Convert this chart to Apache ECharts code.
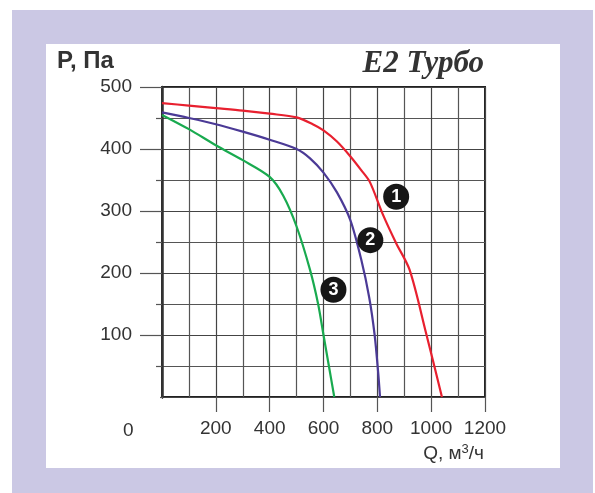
<!DOCTYPE html>
<html><head><meta charset="utf-8">
<script src="https://cdn.jsdelivr.net/npm/echarts@6/dist/echarts.min.js"></script>
<style>html,body{margin:0;padding:0;background:#fff}#c{width:595px;height:493px}</style>
</head><body><div id="c"></div>
<script>
// Data (Q m3/h, P Pa)
const curve1 = [[0,474],[100,470],[200,466],[300,462],[400,457],[500,451],[560,440],[600,430],[650,412],[700,388],[740,366],[772,347],[820,295],[870,248],[920,205],[980,105],[1040,0]];
const curve2 = [[0,459],[100,450],[200,440],[300,428],[400,415],[500,400],[550,385],[600,362],[650,330],[700,285],[740,222],[770,160],[790,100],[803,40],[810,0]];
const curve3 = [[0,455],[100,432],[200,406],[300,382],[400,355],[450,325],[500,275],[550,205],[580,150],[600,100],[620,50],[640,0]];
const markers = [[870,323,'1'],[774,253,'2'],[637,173,'3']];
const yTicks = [100,200,300,400,500];
const xTicks = [200,400,600,800,1000,1200];

const chart = echarts.init(document.getElementById('c'));
const font = 'Liberation Sans, Arial, sans-serif';
chart.setOption({
  animation:false,
  backgroundColor:'#fff',
  graphic:[
    {type:'rect',z:-10,shape:{x:12,y:10,width:581,height:483},style:{fill:'#cbc8e4'}},
    {type:'rect',z:-9,shape:{x:46,y:44,width:514,height:424},style:{fill:'#fff'}},
    {type:'text',left:57,top:49,style:{text:'P, Па',font:'bold 24px '+font,fill:'#333'}},
    {type:'text',right:111,top:48,style:{text:'E2 Турбо',font:'italic bold 31px Liberation Serif, DejaVu Serif, serif',fill:'#333'}},
    {type:'text',left:123,top:421,style:{text:'0',font:'19px '+font,fill:'#333'}},
    {type:'text',right:111,top:443,style:{rich:{n:{font:'19px '+font,fill:'#333'},s:{font:'13px '+font,fill:'#333',verticalAlign:'top',padding:[0,0,8,0]}},text:'{n|Q, м}{s|3}{n|/ч}'}},
    {type:'rect',z:100,shape:{x:132,y:395,width:28,height:4},style:{fill:'#fff'}},
    {type:'rect',z:100,shape:{x:159,y:399,width:6,height:18},style:{fill:'#fff'}}
  ],
  grid:{left:162,top:87,width:323,height:310,show:true,borderColor:'#222',borderWidth:2,backgroundColor:'transparent'},
  xAxis:{type:'value',min:0,max:1200,interval:200,
    axisLine:{show:false},
    axisTick:{show:true,length:15,lineStyle:{color:'#555',width:1.2}},
    axisLabel:{margin:22,fontSize:19,fontFamily:font,color:'#333',formatter:v=>xTicks.includes(v)?String(v):''},
    splitLine:{show:true,lineStyle:{color:'#444',width:1.2}},
    minorTick:{show:false,splitNumber:2},
    minorSplitLine:{show:true,lineStyle:{color:'#555',width:1.2}}
  },
  yAxis:{type:'value',min:0,max:500,interval:100,
    axisLine:{show:true,lineStyle:{color:'#333',width:2.5}},
    axisTick:{show:true,length:22,lineStyle:{color:'#555',width:1.2}},
    axisLabel:{margin:30,fontSize:19,fontFamily:font,color:'#333',formatter:v=>yTicks.includes(v)?String(v):''},
    splitLine:{show:true,lineStyle:{color:'#444',width:1.2}},
    minorTick:{show:true,splitNumber:2,length:6,lineStyle:{color:'#555',width:1.2}},
    minorSplitLine:{show:true,lineStyle:{color:'#555',width:1.2}}
  },
  series:[
    {type:'line',data:curve1,smooth:0.3,symbol:'none',lineStyle:{color:'#e8202f',width:2.2},z:3},
    {type:'line',data:curve2,smooth:0.3,symbol:'none',lineStyle:{color:'#4b3a96',width:2.2},z:3},
    {type:'line',data:curve3,smooth:0.3,symbol:'none',lineStyle:{color:'#19aa4f',width:2.2},z:3},
    {type:'scatter',data:markers,symbolSize:26,itemStyle:{color:'#161616',opacity:1},z:5,
      label:{show:true,position:'inside',formatter:p=>p.data[2],color:'#fff',fontWeight:'bold',fontSize:18,fontFamily:font}}
  ]
});
</script></body></html>
